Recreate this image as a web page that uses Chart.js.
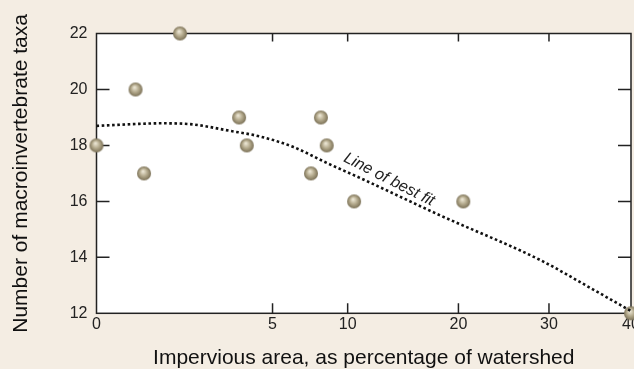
<!DOCTYPE html>
<html>
<head>
<meta charset="utf-8">
<script src="https://cdn.jsdelivr.net/npm/chart.js@4.4.0/dist/chart.umd.min.js"></script>
<style>
  html, body { margin: 0; padding: 0; background: #f4ede3; }
  #wrap { width: 634px; height: 369px; }
</style>
</head>
<body>
<div id="wrap"><canvas id="taxaChart"></canvas></div>
<script>
// Sites: impervious area (% of watershed) and number of taxa found
const sitePct = [0, 0.25, 0.37, 1.14, 3.3, 3.66, 7.36, 8.04, 8.45, 10.5, 20.5, 40];
const siteTaxa = [18, 20, 17, 22, 19, 18, 17, 19, 18, 16, 16, 12];

// Line of best fit
const fitPct = [0, 0.3, 0.66, 1.43, 2.9, 4.32, 6.2, 8.47, 10.96, 18.1, 29, 35, 40];
const fitTaxa = [18.7, 18.77, 18.79, 18.76, 18.52, 18.32, 17.95, 17.37, 16.84, 15.51, 13.9, 12.9, 12.08];

const xTickLabels = [0, 5, 10, 20, 30, 40];
const yTickLabels = [12, 14, 16, 18, 20, 22];

// where the "Line of best fit" note sits (data units)
const fitNote = { pct: 13.4, taxa: 16.78, text: 'Line of best fit', angle: 27 };

// x axis is arcsine-square-root of the percentage
function toX(p) {
  return Math.asin(Math.sqrt(p / 100));
}

const FONT = "'Liberation Sans', Arial, sans-serif";

// shaded round marker
function makeMarker(r) {
  const c = document.createElement('canvas');
  const s = r * 2 + 2;
  c.width = s;
  c.height = s;
  const g = c.getContext('2d');
  const cx = s / 2, cy = s / 2;
  const grad = g.createRadialGradient(cx - r * 0.15, cy - r * 0.3, r * 0.1, cx, cy, r);
  grad.addColorStop(0, '#e8e2cf');
  grad.addColorStop(0.5, '#b3a98c');
  grad.addColorStop(1, '#7b7157');
  g.fillStyle = grad;
  g.beginPath();
  g.arc(cx, cy, r, 0, Math.PI * 2);
  g.fill();
  return c;
}

// background, plot frame and inward tick marks
const framePlugin = {
  id: 'frame',
  beforeDraw(chart) {
    const { ctx, chartArea: a } = chart;
    ctx.save();
    ctx.fillStyle = '#f4ede3';
    ctx.fillRect(0, 0, chart.width, chart.height);
    ctx.fillStyle = '#ffffff';
    ctx.fillRect(a.left, a.top, a.right - a.left, a.bottom - a.top);
    ctx.restore();
  },
  beforeDatasetsDraw(chart) {
    const { ctx, chartArea: a, scales } = chart;
    ctx.save();
    ctx.strokeStyle = '#222';
    ctx.lineWidth = 1.5;
    ctx.strokeRect(a.left, a.top, a.right - a.left, a.bottom - a.top);
    ctx.beginPath();
    xTickLabels.slice(1, -1).forEach(v => {
      const px = scales.x.getPixelForValue(toX(v));
      ctx.moveTo(px, a.bottom);
      ctx.lineTo(px, a.bottom - 10);
      ctx.moveTo(px, a.top);
      ctx.lineTo(px, a.top + 8);
    });
    yTickLabels.slice(1, -1).forEach(v => {
      const py = scales.y.getPixelForValue(v);
      ctx.moveTo(a.left, py);
      ctx.lineTo(a.left + 13, py);
      ctx.moveTo(a.right, py);
      ctx.lineTo(a.right - 13, py);
    });
    ctx.stroke();
    ctx.restore();
  },
  afterDatasetsDraw(chart) {
    const { ctx, scales } = chart;
    const px = scales.x.getPixelForValue(toX(fitNote.pct));
    const py = scales.y.getPixelForValue(fitNote.taxa);
    ctx.save();
    ctx.translate(px, py);
    ctx.rotate(fitNote.angle * Math.PI / 180);
    ctx.font = 'italic 16px ' + FONT;
    ctx.fillStyle = '#222';
    ctx.textAlign = 'center';
    ctx.textBaseline = 'middle';
    ctx.fillText(fitNote.text, 0, 0);
    ctx.restore();
  }
};

new Chart(document.getElementById('taxaChart'), {
  type: 'scatter',
  data: {
    datasets: [
      {
        type: 'line',
        data: fitPct.map((p, i) => ({ x: toX(p), y: fitTaxa[i] })),
        borderColor: '#111',
        borderWidth: 2.6,
        borderDash: [2.6, 2.6],
        pointRadius: 0,
        cubicInterpolationMode: 'monotone',
        fill: false
      },
      {
        data: sitePct.map((p, i) => ({ x: toX(p), y: siteTaxa[i] })),
        pointStyle: makeMarker(7),
        pointRadius: 7,
        clip: false
      }
    ]
  },
  options: {
    responsive: true,
    maintainAspectRatio: false,
    animation: false,
    events: [],
    layout: {
      autoPadding: false,
      padding: { top: 33.5, right: 3, bottom: 0, left: 0 }
    },
    plugins: {
      legend: { display: false },
      tooltip: { enabled: false }
    },
    scales: {
      x: {
        type: 'linear',
        min: 0,
        max: toX(40),
        grid: { display: false, drawTicks: false },
        border: { display: false },
        afterBuildTicks(scale) {
          scale.ticks = xTickLabels.map(v => ({ value: toX(v) }));
        },
        afterFit(scale) {
          scale.height = 55.7;
          scale.paddingLeft = 0;
          scale.paddingRight = 0;
        },
        ticks: {
          autoSkip: false,
          maxRotation: 0,
          padding: 2,
          color: '#222',
          font: { family: FONT, size: 16 },
          callback: (value, i) => xTickLabels[i]
        },
        title: {
          display: true,
          text: 'Impervious area, as percentage of watershed',
          color: '#111',
          font: { family: FONT, size: 21, lineHeight: 1.15 },
          padding: { top: 0, bottom: -1 }
        }
      },
      y: {
        min: 12,
        max: 22,
        grid: { display: false, drawTicks: false },
        border: { display: false },
        afterBuildTicks(scale) {
          scale.ticks = yTickLabels.map(v => ({ value: v }));
        },
        afterFit(scale) {
          scale.width = 96.5;
          scale.paddingTop = 0;
          scale.paddingBottom = 0;
        },
        ticks: {
          padding: 9,
          color: '#222',
          font: { family: FONT, size: 16 }
        },
        title: {
          display: true,
          text: 'Number of macroinvertebrate taxa',
          color: '#111',
          font: { family: FONT, size: 21, lineHeight: 1.2 },
          padding: { top: 9, bottom: 0 }
        }
      }
    }
  },
  plugins: [framePlugin]
});
</script>
</body>
</html>
